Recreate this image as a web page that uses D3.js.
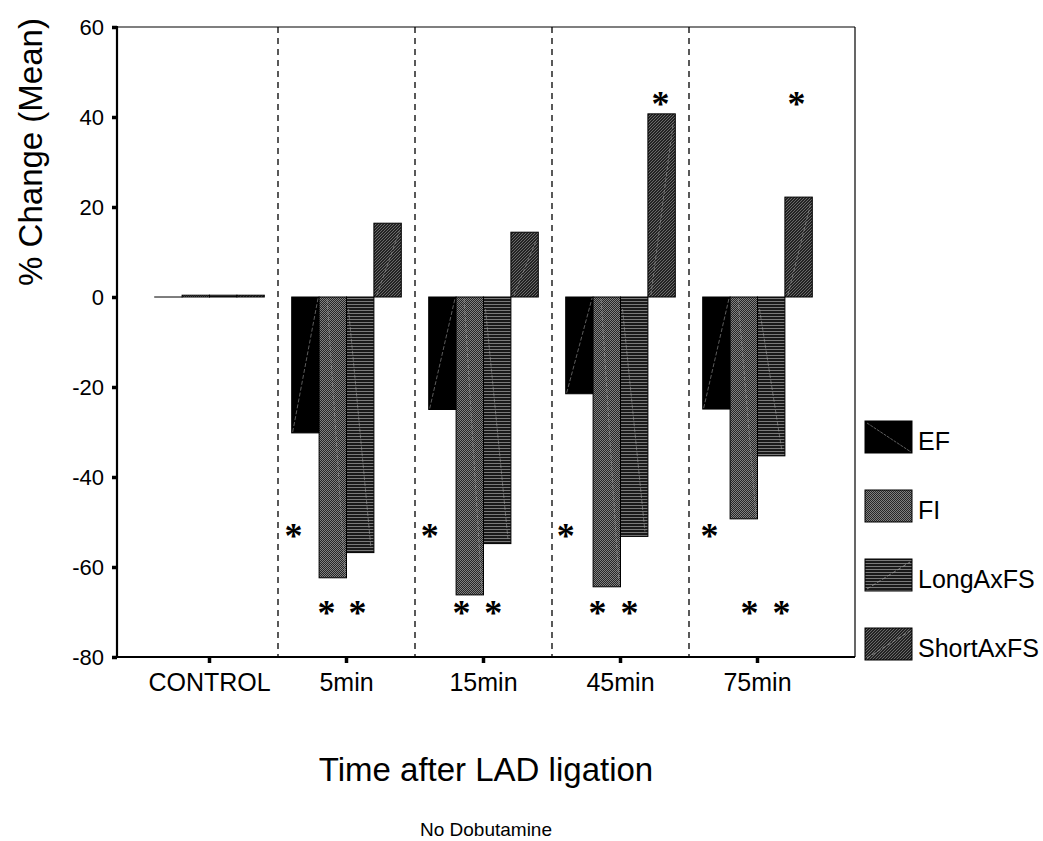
<!DOCTYPE html>
<html>
<head>
<meta charset="utf-8">
<script src="https://cdn.jsdelivr.net/npm/d3@7"></script>
<style>
  html, body { margin: 0; padding: 0; background: #fff; }
  svg { display: block; font-family: "Liberation Sans", Arial, sans-serif; }
</style>
</head>
<body>
<svg id="chart" width="1043" height="841"></svg>
<script>
// ---- data ----
const categories = ["CONTROL", "5min", "15min", "45min", "75min"];
const seriesNames = ["EF", "FI", "LongAxFS", "ShortAxFS"];
const efValues    = [0,   -30.2, -25.0, -21.5, -24.9];
const fiValues    = [0.4, -62.4, -66.2, -64.4, -49.3];
const longValues  = [0.4, -56.8, -54.8, -53.2, -35.3];
const shortValues = [0.4,  16.4,  14.4,  40.7,  22.2];
const yTicks = [-80, -60, -40, -20, 0, 20, 40, 60];
// significance asterisks: category, series, value, horizontal position within the bar (fraction of bar width)
const starCategories = ["5min","15min","45min","75min", "5min","5min","15min","15min","45min","45min","75min","75min", "45min","75min"];
const starSeries     = ["EF","EF","EF","EF", "FI","LongAxFS","FI","LongAxFS","FI","LongAxFS","FI","LongAxFS", "ShortAxFS","ShortAxFS"];
const starValues     = [-52,-52,-52,-52, -69,-69,-69,-69,-69,-69,-69,-69, 44,44];
const starShift      = [0.07,0.04,0.0,0.25, 0.27,0.4,0.2,0.36,0.16,0.33,0.71,0.88, 0.46,0.42];

const seriesValues = [efValues, fiValues, longValues, shortValues];

// ---- layout ----
const svg = d3.select("#chart");
const plot = { left: 117, right: 855, top: 27, bottom: 657 };

const x = d3.scaleBand().domain(categories).range([141, 826]).paddingInner(0).paddingOuter(0);
const groupW = x.bandwidth() * 0.8;
const xs = d3.scaleBand().domain(seriesNames).range([0, groupW]);
const y = d3.scaleLinear().domain([-80, 60]).range([plot.bottom, plot.top]);

// ---- patterns ----
const defs = svg.append("defs");
const pFI = defs.append("pattern").attr("id", "pFI").attr("patternUnits", "userSpaceOnUse")
  .attr("width", 2).attr("height", 2);
pFI.append("rect").attr("width", 2).attr("height", 2).attr("fill", "#262626");
pFI.append("rect").attr("width", 1).attr("height", 1).attr("fill", "#808080");
pFI.append("rect").attr("x", 1).attr("y", 1).attr("width", 1).attr("height", 1).attr("fill", "#808080");
const pL = defs.append("pattern").attr("id", "pLong").attr("patternUnits", "userSpaceOnUse")
  .attr("width", 4).attr("height", 3);
pL.append("rect").attr("width", 4).attr("height", 3).attr("fill", "#1a1a1a");
pL.append("rect").attr("y", 1).attr("width", 4).attr("height", 1).attr("fill", "#7a7a7a");
const pS = defs.append("pattern").attr("id", "pShort").attr("patternUnits", "userSpaceOnUse")
  .attr("width", 3).attr("height", 3);
pS.append("rect").attr("width", 3).attr("height", 3).attr("fill", "#232323");
pS.append("path").attr("d", "M-1,1 L1,-1 M0,3 L3,0 M2,4 L4,2").attr("stroke", "#727272").attr("stroke-width", 0.9);

const fills = { EF: "#000", FI: "url(#pFI)", LongAxFS: "url(#pLong)", ShortAxFS: "url(#pShort)" };

// ---- dashed separators ----
svg.append("g").selectAll("line").data(categories.slice(1)).join("line")
  .attr("x1", d => x(d)).attr("x2", d => x(d))
  .attr("y1", plot.top).attr("y2", plot.bottom)
  .attr("stroke", "#000").attr("stroke-width", 1.3).attr("stroke-dasharray", "6,5");

// ---- bars ----
const barData = [];
categories.forEach((c, ci) => {
  seriesNames.forEach((s, si) => {
    barData.push({ cat: c, series: s, value: seriesValues[si][ci] });
  });
});
const gx0 = c => x(c) + (x.bandwidth() - groupW) / 2;

const bars = svg.append("g");
bars.selectAll("rect").data(barData).join("rect")
  .attr("x", d => gx0(d.cat) + xs(d.series))
  .attr("width", xs.bandwidth())
  .attr("y", d => Math.min(y(d.value), y(0)))
  .attr("height", d => Math.max(0.01, Math.abs(y(d.value) - y(0))))
  .attr("fill", d => fills[d.series])
  .attr("stroke", "#000").attr("stroke-width", 1);

// faint rendering artifact lines inside the bars
const artifacts = bars.append("g").attr("stroke", "#9a9a9a").attr("stroke-width", 0.8)
  .attr("stroke-dasharray", "4,2").attr("opacity", 0.75);
artifacts.selectAll("line").data(barData.filter(d => Math.abs(d.value) > 2)).join("line")
  .each(function(d) {
    const x0 = gx0(d.cat) + xs(d.series), w = xs.bandwidth();
    const top = Math.min(y(d.value), y(0)), bot = Math.max(y(d.value), y(0));
    let a;
    if (d.series === "EF") a = [x0 + 1, bot - 1, x0 + w - 1, top + 1];
    else if (d.series === "FI") a = [x0 + 8, top + 2, x0 + 26, bot - 2];
    else if (d.series === "LongAxFS") a = [x0 + 2, top + 12, x0 + w - 3, bot - 5];
    else a = [x0 + 3, bot - 2, x0 + w - 2, top + 8];
    d3.select(this).attr("x1", a[0]).attr("y1", a[1]).attr("x2", a[2]).attr("y2", a[3]);
  });

// ---- frame ----
svg.append("line").attr("x1", plot.left).attr("x2", plot.right).attr("y1", plot.top).attr("y2", plot.top)
  .attr("stroke", "#000").attr("stroke-width", 1.2);
svg.append("line").attr("x1", plot.right).attr("x2", plot.right).attr("y1", plot.top).attr("y2", plot.bottom)
  .attr("stroke", "#000").attr("stroke-width", 1.2);

// ---- axes ----
const yAxis = d3.axisLeft(y).tickValues(yTicks).tickSize(5).tickPadding(8).tickFormat(d => String(d));
const gy = svg.append("g").attr("transform", `translate(${plot.left},0)`).call(yAxis);
gy.attr("font-size", 22).attr("font-family", "Liberation Sans, Arial, sans-serif");
gy.select(".domain").attr("stroke-width", 2.2).attr("d", `M0,${plot.top - 1}V${plot.bottom + 1}`);
gy.selectAll(".tick line").attr("stroke-width", 3.5);
gy.selectAll(".tick text").attr("fill", "#000");

const xAxis = d3.axisBottom(x).tickSize(6).tickPadding(10);
const gxA = svg.append("g").attr("transform", `translate(0,${plot.bottom})`).call(xAxis);
gxA.attr("font-size", 25).attr("font-family", "Liberation Sans, Arial, sans-serif");
gxA.select(".domain").attr("stroke-width", 2.2).attr("d", `M${plot.left - 1},0H${plot.right}`);
gxA.selectAll(".tick line").attr("stroke-width", 3.5);
gxA.selectAll(".tick text").attr("fill", "#000");

// ---- asterisks ----
svg.append("g").selectAll("text").data(starValues.map((v, i) => ({ c: starCategories[i], s: starSeries[i], v, k: starShift[i] })))
  .join("text")
  .attr("x", d => gx0(d.c) + xs(d.s) + xs.bandwidth() * d.k)
  .attr("y", d => y(d.v) + 17)
  .attr("font-family", "Liberation Serif, Times New Roman, serif")
  .attr("font-weight", "bold")
  .attr("font-size", 36)
  .attr("text-anchor", "middle")
  .attr("fill", "#000")
  .text("*");

// ---- legend ----
const legend = svg.append("g").attr("transform", "translate(865,421)");
const li = legend.selectAll("g").data(seriesNames).join("g")
  .attr("transform", (d, i) => `translate(0,${i * 69})`);
li.append("rect").attr("width", 47).attr("height", 32)
  .attr("fill", d => fills[d]).attr("stroke", "#000").attr("stroke-width", 1);
li.filter(d => d === "EF").append("line").attr("x1", 2).attr("y1", 2).attr("x2", 46).attr("y2", 31)
  .attr("stroke", "#777").attr("stroke-width", 0.8).attr("stroke-dasharray", "3,1");
li.filter(d => d === "LongAxFS" || d === "ShortAxFS").append("line").attr("x1", 2).attr("y1", 30).attr("x2", 45).attr("y2", 3)
  .attr("stroke", "#999").attr("stroke-width", 0.8).attr("stroke-dasharray", "4,2");
li.append("text").attr("x", 53).attr("y", 29).attr("font-size", 25).attr("fill", "#000").text(d => d);

// ---- titles ----
svg.append("text").attr("x", (plot.left + plot.right) / 2).attr("y", 781)
  .attr("text-anchor", "middle").attr("font-size", 33).attr("fill", "#000").text("Time after LAD ligation");
svg.append("text").attr("x", (plot.left + plot.right) / 2).attr("y", 836)
  .attr("text-anchor", "middle").attr("font-size", 19).attr("fill", "#000").text("No Dobutamine");
svg.append("text").attr("transform", "translate(42,152) rotate(-90)")
  .attr("text-anchor", "middle").attr("font-size", 33).attr("fill", "#000").text("% Change (Mean)");
</script>
</body>
</html>
